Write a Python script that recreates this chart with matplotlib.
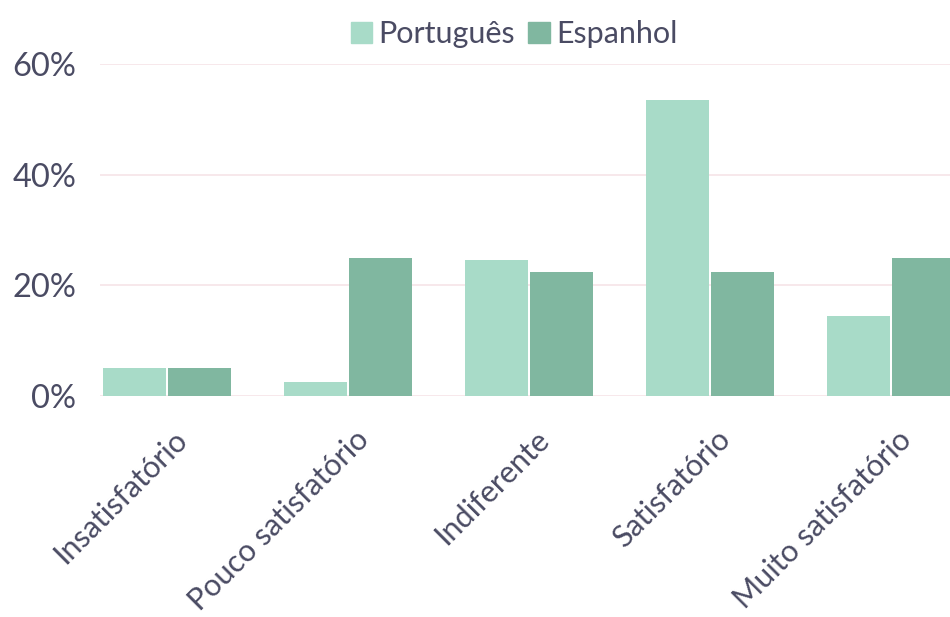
import numpy as np
import matplotlib
matplotlib.use("Agg")
import matplotlib.pyplot as plt
import matplotlib.transforms as mtransforms
from matplotlib.patches import Patch

categories = ["Insatisfatório", "Pouco satisfatório", "Indiferente", "Satisfatório", "Muito satisfatório"]
portugues = [5.0, 2.5, 24.5, 53.5, 14.5]
espanhol = [5.0, 25.0, 22.5, 22.5, 25.0]
yticks = [0, 20, 40, 60]

c_pt = "#a8dbc8"
c_es = "#80b7a0"
txt = "#4a4b63"

plt.rcParams["font.family"] = ["Lato", "DejaVu Sans"]

fig = plt.figure(figsize=(9.5, 6.17), dpi=100)
ax = fig.add_axes([0.1053, 0.358, 0.8947, 0.5385])

x = np.arange(len(categories))
w = 0.348
ax.bar(x - w / 2 - 0.004, portugues, w, color=c_pt, zorder=3)
ax.bar(x + w / 2 + 0.004, espanhol, w, color=c_es, zorder=3)

ax.set_xlim(-0.37, 4.326)
ax.set_ylim(0, 60)
ax.set_yticks(yticks)
ax.set_yticklabels([f"{v}%" for v in yticks], fontsize=23.5, color=txt)
for v in yticks:
    ax.axhline(v, color="#f6e4e7", lw=1.2, zorder=1)

# category labels, rotated, anchored by their right end below each group
ax.set_xticks([])
offset = mtransforms.ScaledTranslation(0.16, -0.39, fig.dpi_scale_trans)
for xi, name in zip(x, categories):
    ax.text(xi, 0, name, rotation=45, ha="right", va="center", rotation_mode="anchor",
            fontsize=22, color=txt, transform=ax.get_xaxis_transform() + offset)

ax.tick_params(axis="both", length=0)
ax.tick_params(axis="y", pad=17)
for s in ax.spines.values():
    s.set_visible(False)

handles = [Patch(color=c_pt, label="Português"), Patch(color=c_es, label="Espanhol")]
fig.legend(handles=handles, loc="upper center", bbox_to_anchor=(0.541, 1.012), ncol=2,
           frameon=False, fontsize=22, labelcolor=txt, handlelength=0.7, handleheight=0.7,
           handletextpad=0.2, columnspacing=0.45)

fig.savefig("out.png", dpi=100)
